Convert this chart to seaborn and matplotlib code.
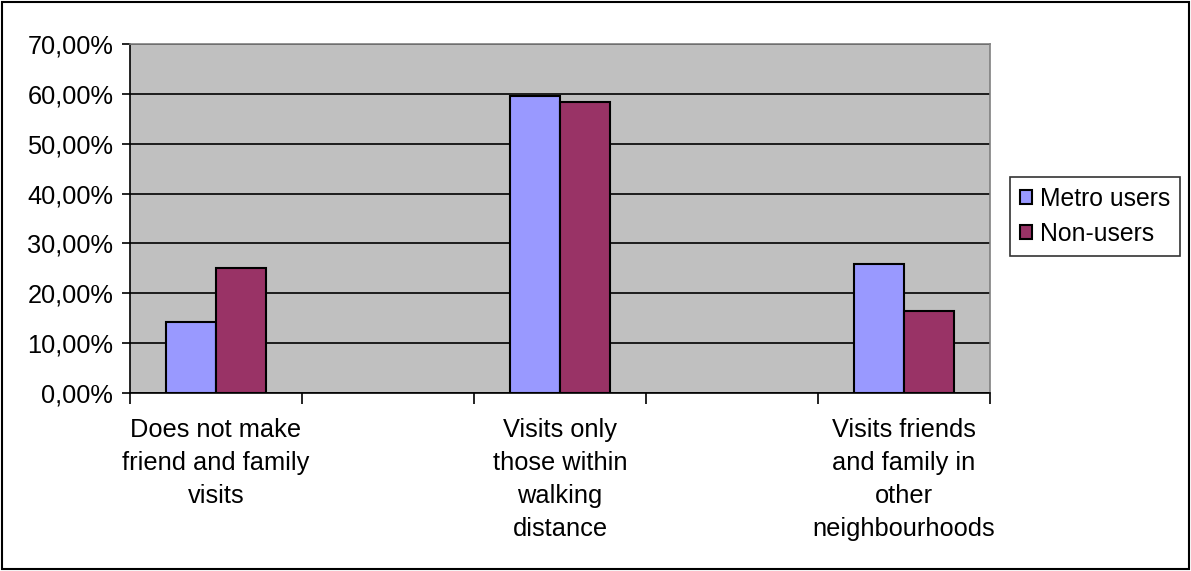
import matplotlib
matplotlib.use("Agg")
import matplotlib.pyplot as plt
import seaborn as sns
import pandas as pd
from matplotlib.ticker import FuncFormatter, FixedLocator
from matplotlib.patches import Rectangle

categories = [
    "Does not make\nfriend and family\nvisits",
    "Visits only\nthose within\nwalking\ndistance",
    "Visits friends\nand family in\nother\nneighbourhoods",
]
axis_slots = [categories[0], "gap1", categories[1], "gap2", categories[2]]
metro_users = [14.2, 59.6, 25.8]
non_users = [25.1, 58.4, 16.5]
series_names = ["Metro users", "Non-users"]
y_ticks = [0, 10, 20, 30, 40, 50, 60, 70]

df = pd.DataFrame({
    "category": categories * 2,
    "value": metro_users + non_users,
    "series": [series_names[0]] * 3 + [series_names[1]] * 3,
})

FS = 18.3

sns.set_style("white")
plt.rcParams["font.family"] = ["Liberation Sans", "DejaVu Sans"]
plt.rcParams["font.size"] = FS
plt.rcParams["text.color"] = "black"
plt.rcParams["xtick.color"] = "black"
plt.rcParams["ytick.color"] = "black"
plt.rcParams["xtick.labelcolor"] = "black"
plt.rcParams["ytick.labelcolor"] = "black"

fig = plt.figure(figsize=(11.91, 5.71), dpi=100)
ax = fig.add_axes([130 / 1191, 1 - 393 / 571, (990 - 130) / 1191, (393 - 44) / 571])

sns.barplot(data=df, x="category", y="value", hue="series", order=axis_slots,
            hue_order=series_names, palette=["#9999FF", "#993366"], saturation=1,
            width=0.576, gap=0, edgecolor="black", linewidth=1.5,
            errorbar=None, ax=ax, zorder=3)

ax.set_facecolor("#C0C0C0")
ax.set_xlim(-0.5, 4.5)
ax.set_ylim(0, 70)
ax.set_yticks(y_ticks)
ax.yaxis.set_major_formatter(FuncFormatter(lambda v, p: f"{v:.2f}".replace(".", ",") + "%"))
ax.grid(axis="y", color="black", linewidth=1.2, zorder=1)
ax.set_axisbelow(True)

ax.xaxis.set_major_locator(FixedLocator([-0.5, 0.5, 1.5, 2.5, 3.5, 4.5]))
ax.xaxis.set_major_formatter(FuncFormatter(lambda v, p: ""))
ax.xaxis.set_minor_locator(FixedLocator([0, 2, 4]))
ax.set_xticklabels(categories, minor=True)
ax.tick_params(axis="x", which="major", direction="out", length=8, width=1.2, color="black", bottom=True)
ax.tick_params(axis="x", which="minor", length=0, pad=18, labelsize=FS, labelcolor="black")
for lbl in ax.get_xticklabels(minor=True):
    lbl.set_linespacing(1.47)
    lbl.set_verticalalignment("top")
ax.tick_params(axis="y", direction="out", length=6, width=1.2, color="black", left=True,
               labelsize=FS, pad=6, labelcolor="black")

ax.set_xlabel("")
ax.set_ylabel("")
for s in ["left", "bottom"]:
    ax.spines[s].set_color("black")
    ax.spines[s].set_linewidth(1.2)
for s in ["top", "right"]:
    ax.spines[s].set_color("#808080")
    ax.spines[s].set_linewidth(1.2)

handles, labels = ax.get_legend_handles_labels()
ax.legend_.remove()
leg = fig.legend(handles, labels, loc="center left", bbox_to_anchor=(1010 / 1191, 1 - 216.5 / 571),
                 frameon=True, fancybox=False, edgecolor="black", fontsize=17.8,
                 handlelength=0.5, handleheight=0.5, handletextpad=0.3,
                 borderpad=0.4, labelspacing=0.45, borderaxespad=0)
leg.get_frame().set_linewidth(1.2)

fig.patches.append(Rectangle((2 / 1191, 2 / 571), 1187 / 1191, 567 / 571, transform=fig.transFigure,
                             fill=False, edgecolor="black", linewidth=1.5))

fig.savefig("out.png", dpi=100, facecolor="white")
